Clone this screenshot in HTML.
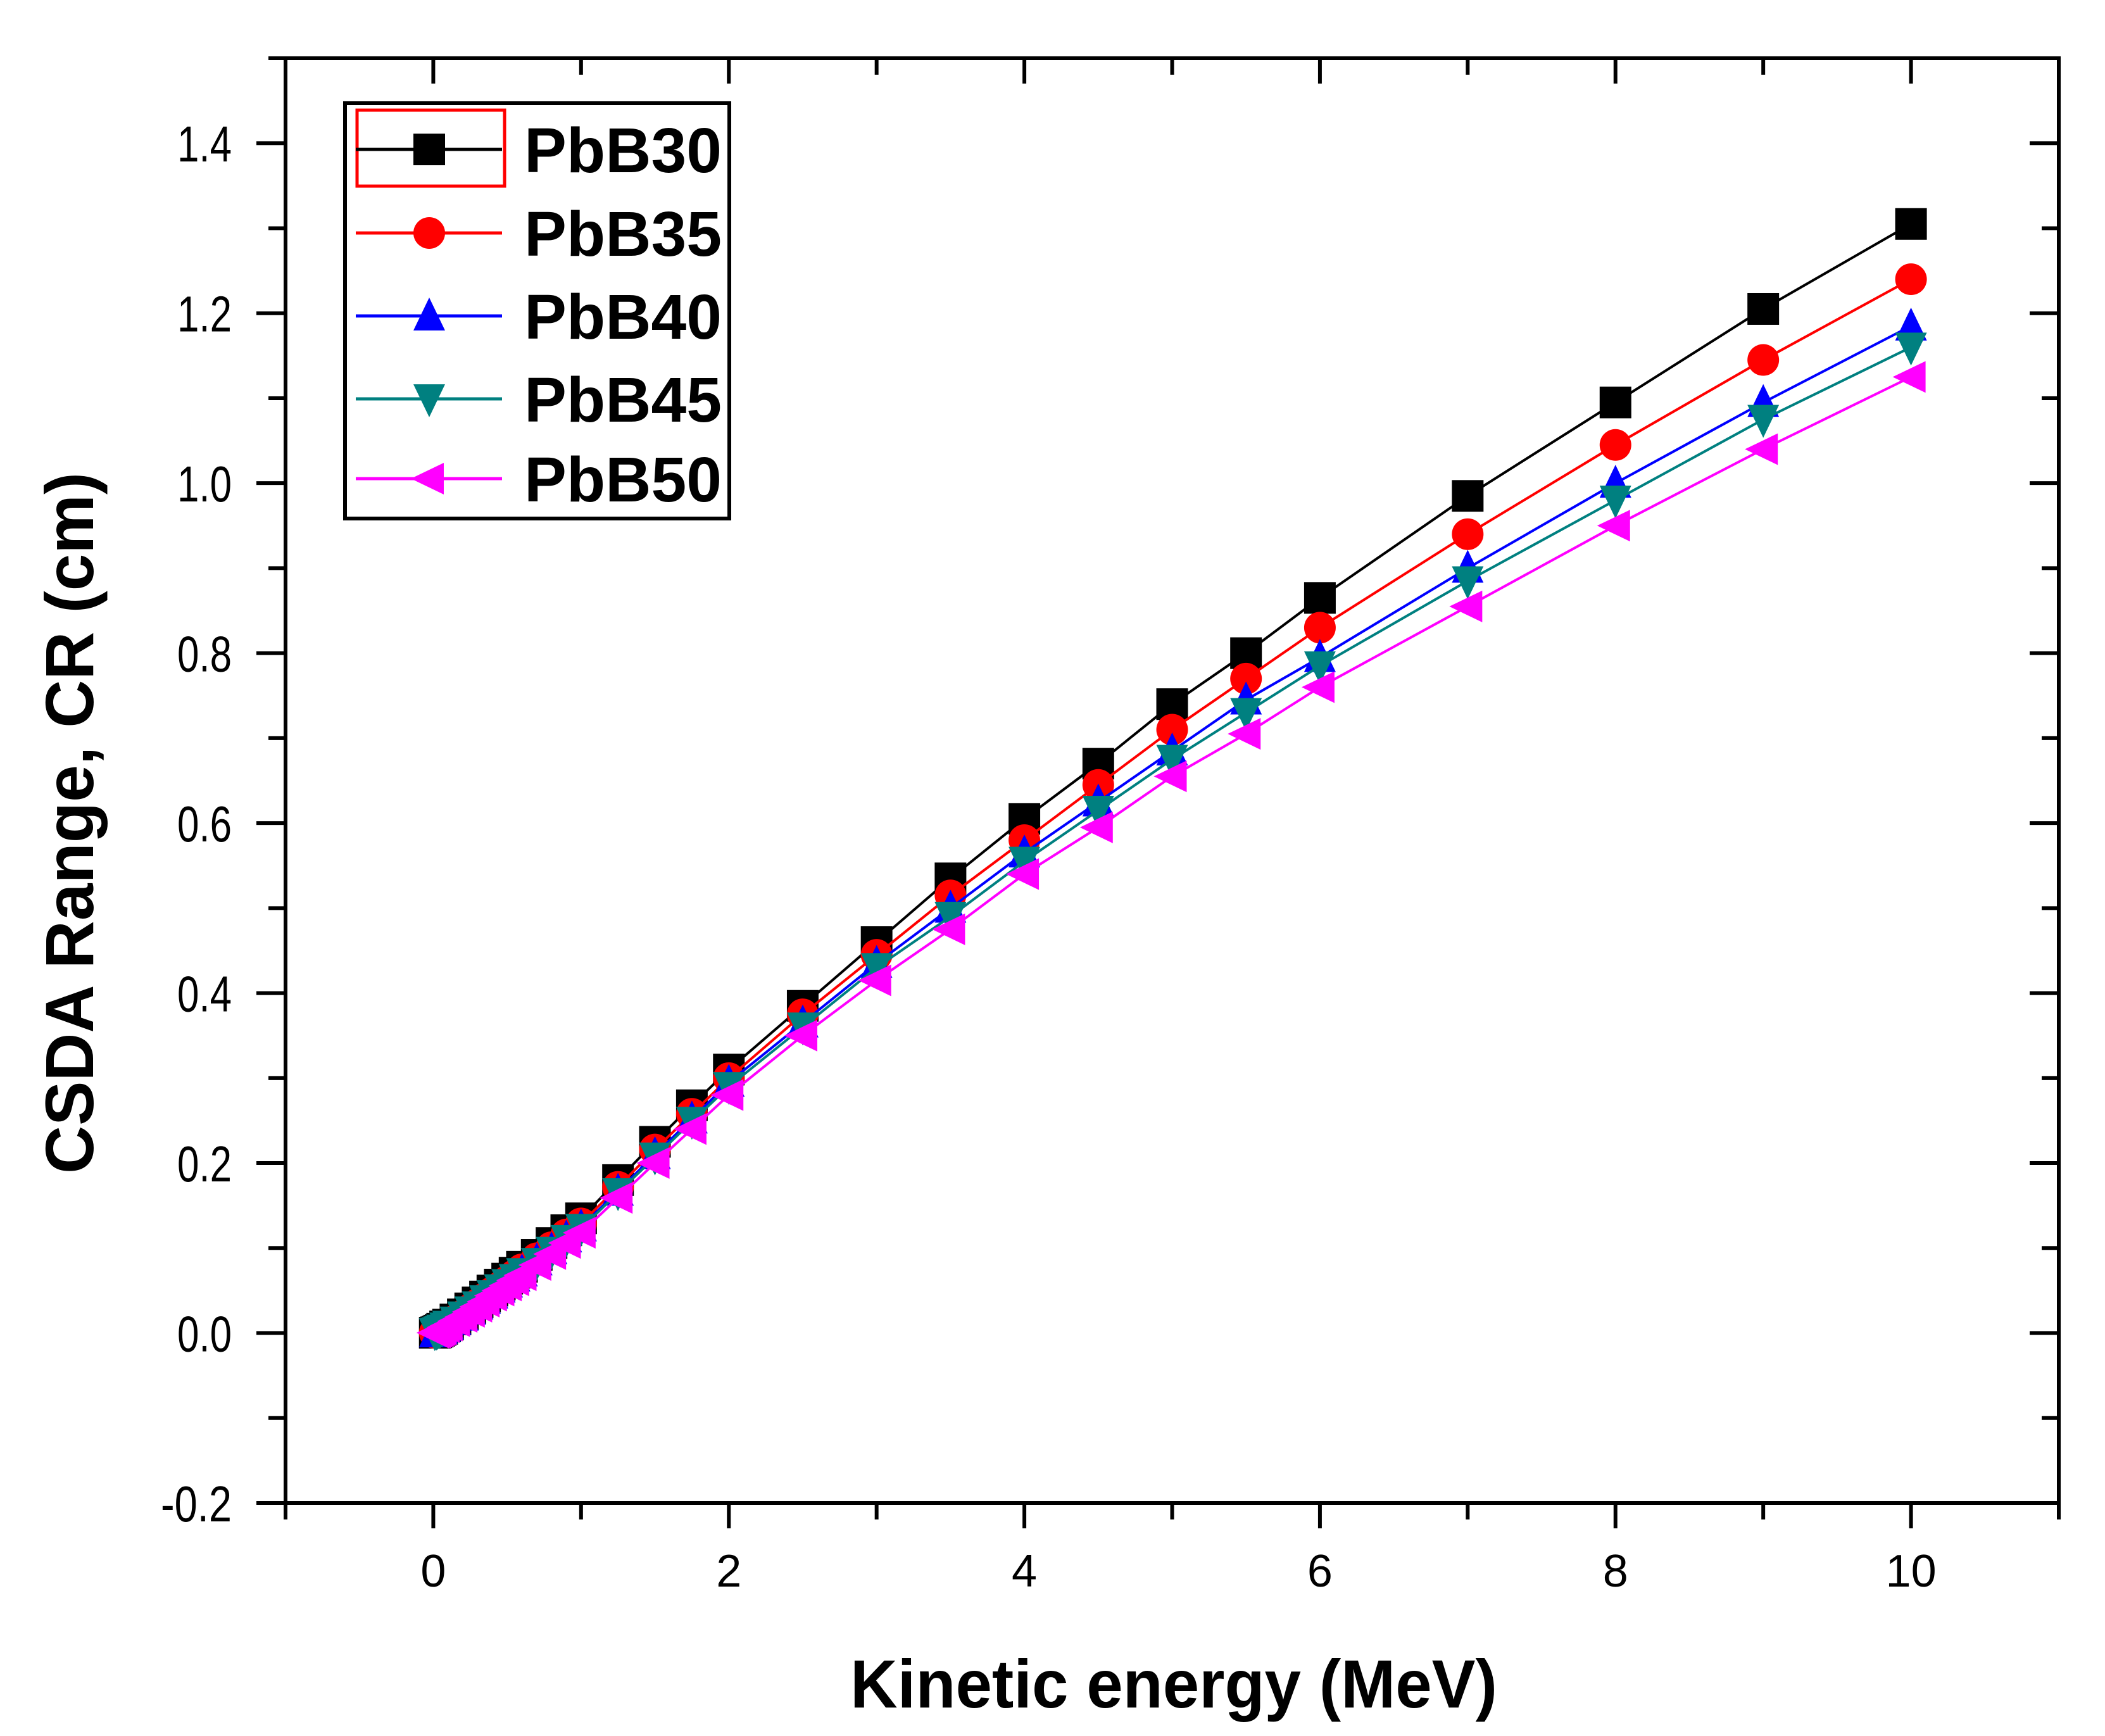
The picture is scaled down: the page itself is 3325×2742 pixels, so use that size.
<!DOCTYPE html>
<html><head><meta charset="utf-8"><style>html,body{margin:0;padding:0;background:#fff}svg{display:block}</style></head>
<body>
<svg id="chart" width="3325" height="2742" viewBox="0 0 3325 2742" xmlns="http://www.w3.org/2000/svg" font-family="'Liberation Sans', sans-serif">
<rect width="3325" height="2742" fill="#fff"/>
<g id="axes"></g>
<g id="series"></g>
<text x="1854" y="2697" font-size="108" font-weight="bold" text-anchor="middle" textLength="1022" lengthAdjust="spacingAndGlyphs">Kinetic energy (MeV)</text>
<text transform="translate(147,1300) rotate(-90)" font-size="108" font-weight="bold" text-anchor="middle" textLength="1108" lengthAdjust="spacingAndGlyphs">CSDA Range, CR (cm)</text>
<g id="legend">
<rect x="545" y="163" width="607" height="656" fill="#fff" stroke="#000" stroke-width="6"/>
<rect x="564" y="174" width="233" height="120" fill="none" stroke="#f00" stroke-width="5"/>
</g>
</svg>
<script>
const energies = [0.01,0.02,0.03,0.04,0.05,0.06,0.08,0.1,0.15,0.2,0.25,0.3,0.35,0.4,0.45,0.5,0.55,0.6,0.7,0.8,0.9,1,1.25,1.5,1.75,2,2.5,3,3.5,4,4.5,5,5.5,6,7,8,9,10];
const pbb30 = [0.0003,0.0009,0.0017,0.0027,0.0038,0.005,0.0078,0.010,0.016,0.022,0.029,0.036,0.043,0.050,0.057,0.064,0.071,0.078,0.092,0.106,0.121,0.135,0.180,0.225,0.268,0.310,0.385,0.460,0.535,0.605,0.670,0.740,0.800,0.865,0.985,1.095,1.205,1.305];
const pbb35 = [0.0003,0.0009,0.0016,0.0026,0.0036,0.0048,0.0075,0.0096,0.015,0.021,0.028,0.034,0.041,0.048,0.054,0.061,0.068,0.075,0.088,0.101,0.116,0.129,0.172,0.216,0.258,0.300,0.375,0.445,0.515,0.580,0.645,0.710,0.770,0.830,0.940,1.045,1.145,1.240];
const pbb40 = [0.0003,0.0008,0.0016,0.0025,0.0035,0.0046,0.0072,0.0093,0.015,0.020,0.027,0.033,0.040,0.046,0.053,0.059,0.066,0.072,0.085,0.098,0.112,0.125,0.167,0.210,0.252,0.295,0.365,0.435,0.500,0.565,0.625,0.685,0.745,0.795,0.900,1.000,1.095,1.185];
const pbb45 = [0.0003,0.0008,0.0015,0.0024,0.0034,0.0045,0.0070,0.0091,0.014,0.020,0.026,0.032,0.039,0.045,0.052,0.058,0.064,0.071,0.083,0.096,0.110,0.123,0.165,0.207,0.249,0.290,0.360,0.430,0.490,0.555,0.615,0.675,0.730,0.785,0.885,0.980,1.075,1.160];
const pbb50 = [0.0003,0.0008,0.0015,0.0023,0.0033,0.0043,0.0068,0.0088,0.014,0.019,0.025,0.031,0.037,0.044,0.050,0.056,0.062,0.068,0.080,0.093,0.106,0.118,0.159,0.200,0.240,0.280,0.350,0.415,0.475,0.540,0.595,0.655,0.705,0.760,0.855,0.950,1.040,1.125];
const seriesNames = ["PbB30","PbB35","PbB40","PbB45","PbB50"];
const xTicks = [0,2,4,6,8,10];
const yTicks = [-0.2,0.0,0.2,0.4,0.6,0.8,1.0,1.2,1.4];
const yTickLabels = ["-0.2","0.0","0.2","0.4","0.6","0.8","1.0","1.2","1.4"];

const NS = "http://www.w3.org/2000/svg";
const L = 451, R = 3252, T = 92, B = 2374;
const xMin = -1, xMax = 11, yMin = -0.2, yMax = 1.5;
const xs = v => L + (v - xMin) / (xMax - xMin) * (R - L);
const ys = v => B - (v - yMin) / (yMax - yMin) * (B - T);
function mk(tag, attrs, parent) { const e = document.createElementNS(NS, tag); for (const k in attrs) e.setAttribute(k, attrs[k]); parent.appendChild(e); return e; }

const axes = document.getElementById('axes');
const frame = mk('rect', {x:L, y:T, width:R-L, height:B-T, fill:'none', stroke:'#000', 'stroke-width':6}, axes);


for (let v = -1; v <= 11; v++) {
  const major = (v % 2 === 0);
  const len = major ? 40 : 26;
  const x = xs(v);
  const t1 = mk('line', {x1:x, y1:B, x2:x, y2:B+len, stroke:'#000', 'stroke-width':6}, axes);
  
  
  const t2 = mk('line', {x1:x, y1:T, x2:x, y2:T+len, stroke:'#000', 'stroke-width':6}, axes);
  
  
}
xTicks.forEach(v => {
  const t = mk('text', {x:xs(v), y:2506, 'font-size':72, 'text-anchor':'middle'}, axes);
  
  
  t.textContent = String(v);
});
for (let i = -2; i <= 15; i++) {
  const v = i / 10;
  const major = (i % 2 === 0);
  const len = major ? 46 : 27;
  const y = ys(v);
  const t1 = mk('line', {x1:L-len, y1:y, x2:L, y2:y, stroke:'#000', 'stroke-width':6}, axes);
  
  
  const t2 = mk('line', {x1:R-len, y1:y, x2:R, y2:y, stroke:'#000', 'stroke-width':6}, axes);
  
  
}
yTicks.forEach((v, i) => {
  const lab = yTickLabels[i];
  const t = mk('text', {x:366, y:ys(v)+29, 'font-size':80, 'text-anchor':'end', textLength: lab.length === 4 ? 112 : 86, lengthAdjust:'spacingAndGlyphs'}, axes);
  
  
  t.textContent = lab;
});

const colors = ["#000000","#ff0000","#0000ff","#008080","#ff00ff"];
const data = [pbb30, pbb35, pbb40, pbb45, pbb50];
const S = 25;
function marker(kind, cx, cy, color, parent) {
  let e;
  if (kind === 0) e = mk('rect', {x:cx-S, y:cy-S, width:2*S, height:2*S, fill:color}, parent);
  else if (kind === 1) e = mk('circle', {cx:cx, cy:cy, r:S, fill:color}, parent);
  else if (kind === 2) e = mk('polygon', {points:`${cx},${cy-S-4} ${cx+S},${cy+S-2} ${cx-S},${cy+S-2}`, fill:color}, parent);
  else if (kind === 3) e = mk('polygon', {points:`${cx-S},${cy-S+2} ${cx+S},${cy-S+2} ${cx},${cy+S+4}`, fill:color}, parent);
  else e = mk('polygon', {points:`${cx-S-4},${cy} ${cx+S-2},${cy-S} ${cx+S-2},${cy+S}`, fill:color}, parent);
  return e;
}
const sg = document.getElementById('series');
data.forEach((arr, si) => {
  const g = mk('g', {}, sg);
  
  
  const pts = arr.map((v, i) => xs(energies[i]) + ',' + ys(v)).join(' ');
  const pl = mk('polyline', {points:pts, fill:'none', stroke:colors[si], 'stroke-width':4}, g);
  
  
  arr.forEach((v, i) => {
    const m = marker(si, xs(energies[i]), ys(v), colors[si], g);
    
    
  });
});

const lg = document.getElementById('legend');
const legY = [236, 368, 499, 630, 756];
seriesNames.forEach((n, i) => {
  const g = mk('g', {}, lg);
  
  
  const ln = mk('line', {x1:562, y1:legY[i], x2:793, y2:legY[i], stroke:colors[i], 'stroke-width':5}, g);
  
  
  const m = marker(i, 678, legY[i], colors[i], g);
  
  
  const t = mk('text', {x:828, y:legY[i]+36, 'font-size':100, 'font-weight':'bold', textLength:312, lengthAdjust:'spacingAndGlyphs'}, g);
  
  
  t.textContent = n;
});
</script>
</body></html>
